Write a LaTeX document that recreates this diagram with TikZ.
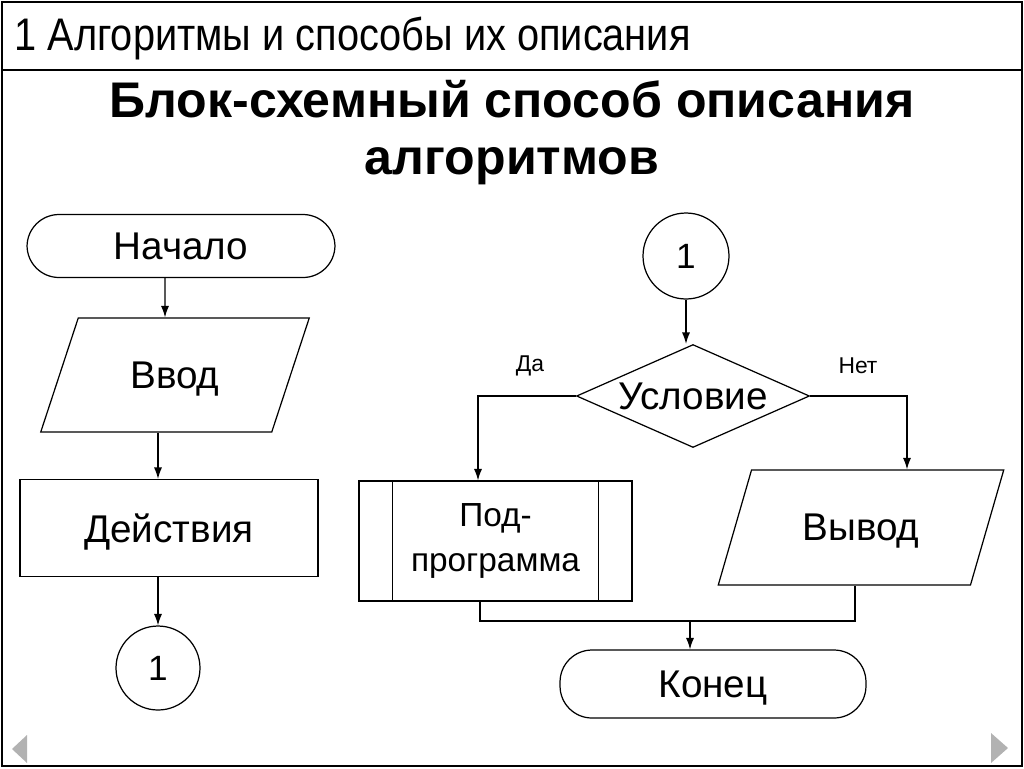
\documentclass[tikz,border=0pt]{standalone}
\usepackage{fontspec}
\setmainfont{Liberation Sans}
\newfontfamily\narrowfont[FakeStretch=0.87]{Liberation Sans}
\usetikzlibrary{shapes.geometric, arrows.meta}
\tikzstyle{term} = [rectangle, 
			draw, 
			rounded corners = 0.64cm, 
			text centered, 
			text depth = 0pt, 
			font = \fontsize{22}{26}\selectfont]
\tikzstyle{rect} = [rectangle, 
			draw, 
			text centered, 
			text depth = 0pt, 
			font = \fontsize{22}{26}\selectfont]
\tikzstyle{io} = [trapezium, 
			trapezium left angle = 63, 
			trapezium right angle = 117, 
			trapezium stretches = true, 
			draw, 
			text centered, 
			text depth = 0pt, 
			font = \fontsize{22}{26}\selectfont]
\tikzstyle{cond} = [diamond, 
			draw, 
			aspect = 2.26, 
			inner sep = 0pt, 
			text centered, 
			font = \fontsize{22}{26}\selectfont]
\tikzstyle{conn} = [circle, 
			draw, 
			text centered, 
			font = \fontsize{20}{24}\selectfont]
\tikzstyle{sub} = [rectangle, 
			draw, 
			align = center, 
			font = \fontsize{19}{25.5}\selectfont]
\tikzstyle{lbl} = [font = \fontsize{13}{15}\selectfont]

\begin{document}
\begin{tikzpicture}[x = 0.02cm, y = -0.02cm, >= {Latex[length = 6.5pt, width = 4.6pt]}, line width = 0.7pt]
	\useasboundingbox (0,0) rectangle (1024,768);
	% frame and header
	\draw [line width = 1pt] (2,2) rectangle (1022,766);
	\draw [line width = 1pt] (2,70) -- (1022,70);
	\node [anchor = west, font = \narrowfont\fontsize{26}{30}\selectfont] (head) at (8,38) {1 Алгоритмы и способы их описания};
	\node [align = center, font = \bfseries\fontsize{28.5}{32.5}\selectfont] (title) at (512,133) {Блок-схемный способ описания\\алгоритмов};

	% left column
	\node [term, minimum width = 6.16cm, minimum height = 1.26cm] (start) at (181,246) {Начало};
	\node [io, minimum width = 5.4cm, minimum height = 2.28cm] (input) at (175,375) {Ввод};
	\node [rect, minimum width = 5.96cm, minimum height = 1.94cm] (action) at (169,528) {Действия};
	\node [conn, minimum size = 1.68cm] (link1) at (158,668) {1};
	\draw [->] ([xshift = -0.32cm]start.south) -- ([xshift = -0.2cm]input.north);
	\draw [->] (input.south -| link1) -- (action.north -| link1);
	\draw [->] (action.south -| link1) -- (link1.north);

	% right column
	\node [conn, minimum size = 1.72cm] (link2) at (686,256) {1};
	\node [cond, minimum width = 4.66cm, minimum height = 2.06cm] (check) at (693,396) {Условие};
	\node [sub, minimum width = 5.46cm, minimum height = 2.4cm] (proc) at (495.5,541) {Под-\\программа};
	\draw ([xshift = 0.68cm]proc.north west) -- ([xshift = 0.68cm]proc.south west);
	\draw ([xshift = -0.68cm]proc.north east) -- ([xshift = -0.68cm]proc.south east);
	\node [io, minimum width = 5.76cm, minimum height = 2.3cm] (output) at (861,527.5) {Вывод};
	\node [term, minimum width = 6.12cm, minimum height = 1.36cm] (stop) at (713,684) {Конец};
	\node [lbl] (yes) at (530,366) {Да};
	\node [lbl] (no) at (858,366) {Нет};
	\coordinate (merge) at (690,621);
	\draw [->] (link2.south) -- (link2.south |- check.north);
	\draw [->] (check.west) -| ([xshift = -0.35cm]proc.north);
	\draw [->] (check.east) -| ([xshift = 0.92cm]output.north);
	\draw ([xshift = -0.31cm]proc.south) |- (merge) -| ([xshift = -0.12cm]output.south);
	\draw [->] (merge) -- (merge |- stop.north);

	% navigation
	\fill [gray!60] (27,735) -- (12,749) -- (27,763) -- cycle;
	\fill [gray!60] (991,733) -- (1008,748) -- (991,763) -- cycle;
\end{tikzpicture}
\end{document}
